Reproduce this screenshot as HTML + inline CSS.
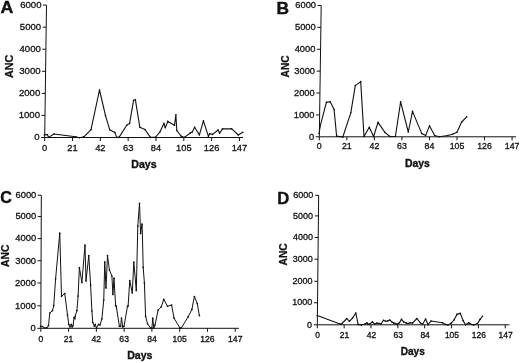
<!DOCTYPE html><html><head><meta charset="utf-8"><title>ANC</title><style>html,body{margin:0;padding:0;background:#fff}svg{display:block}text{font-family:"Liberation Sans",Arial,sans-serif;fill:#111}</style></head><body>
<svg width="520" height="363" viewBox="0 0 520 363">
<rect width="520" height="363" fill="#fff"/>
<g stroke="#111" stroke-width="1.0" fill="none">
<path d="M46.49 5.1L44.7 137.5H243"/>
<path d="M41.20 137.50H44.70M41.50 115.43H45.00M41.80 93.37H45.30M42.09 71.30H45.59M42.39 49.23H45.89M42.69 27.17H46.19M42.99 5.10H46.49M44.70 137.5V141.00M72.52 137.5V141.00M100.34 137.5V141.00M128.16 137.5V141.00M155.98 137.5V141.00M183.80 137.5V141.00M211.62 137.5V141.00M239.44 137.5V141.00"/>
<polyline points="44.40,134.90 47.30,134.50 48.70,137.40 53.90,134.00 75.60,136.80 79.50,137.80 83.90,136.80 91.00,129.70 99.50,90.00 105.50,115.60 109.70,129.70 114.80,132.40 116.70,137.40 119.00,137.40 126.70,125.30 129.60,123.40 133.60,100.20 135.40,99.80 139.80,127.20 145.00,129.50 150.40,137.40 155.30,137.40 159.90,132.00 163.90,123.40 165.30,127.80 167.80,121.40 174.50,125.30 175.90,114.70 176.80,130.50 181.30,136.30 184.50,137.40 190.30,133.00 192.30,132.00 194.60,127.20 199.40,134.90 203.40,120.80 208.40,136.20 209.70,133.70 212.60,134.40 218.20,130.00 219.60,133.30 222.50,128.90 231.50,128.70 238.30,135.00 242.80,132.30" stroke-width="1.1" stroke-linejoin="round"/>
<g fill="#111" stroke="none"><circle cx="44.40" cy="134.90" r="0.8"/><circle cx="47.30" cy="134.50" r="0.8"/><circle cx="48.70" cy="137.40" r="0.8"/><circle cx="53.90" cy="134.00" r="0.8"/><circle cx="75.60" cy="136.80" r="0.8"/><circle cx="79.50" cy="137.80" r="0.8"/><circle cx="83.90" cy="136.80" r="0.8"/><circle cx="91.00" cy="129.70" r="0.8"/><circle cx="99.50" cy="90.00" r="0.8"/><circle cx="105.50" cy="115.60" r="0.8"/><circle cx="109.70" cy="129.70" r="0.8"/><circle cx="114.80" cy="132.40" r="0.8"/><circle cx="116.70" cy="137.40" r="0.8"/><circle cx="119.00" cy="137.40" r="0.8"/><circle cx="126.70" cy="125.30" r="0.8"/><circle cx="129.60" cy="123.40" r="0.8"/><circle cx="133.60" cy="100.20" r="0.8"/><circle cx="135.40" cy="99.80" r="0.8"/><circle cx="139.80" cy="127.20" r="0.8"/><circle cx="145.00" cy="129.50" r="0.8"/><circle cx="150.40" cy="137.40" r="0.8"/><circle cx="155.30" cy="137.40" r="0.8"/><circle cx="159.90" cy="132.00" r="0.8"/><circle cx="163.90" cy="123.40" r="0.8"/><circle cx="165.30" cy="127.80" r="0.8"/><circle cx="167.80" cy="121.40" r="0.8"/><circle cx="174.50" cy="125.30" r="0.8"/><circle cx="175.90" cy="114.70" r="0.8"/><circle cx="176.80" cy="130.50" r="0.8"/><circle cx="181.30" cy="136.30" r="0.8"/><circle cx="184.50" cy="137.40" r="0.8"/><circle cx="190.30" cy="133.00" r="0.8"/><circle cx="192.30" cy="132.00" r="0.8"/><circle cx="194.60" cy="127.20" r="0.8"/><circle cx="199.40" cy="134.90" r="0.8"/><circle cx="203.40" cy="120.80" r="0.8"/><circle cx="208.40" cy="136.20" r="0.8"/><circle cx="209.70" cy="133.70" r="0.8"/><circle cx="212.60" cy="134.40" r="0.8"/><circle cx="218.20" cy="130.00" r="0.8"/><circle cx="219.60" cy="133.30" r="0.8"/><circle cx="222.50" cy="128.90" r="0.8"/><circle cx="231.50" cy="128.70" r="0.8"/><circle cx="238.30" cy="135.00" r="0.8"/><circle cx="242.80" cy="132.30" r="0.8"/></g>
</g>
<g font-size="9.6" text-anchor="end" stroke="#111" stroke-width="0.3">
<text x="39.70" y="140.46">0</text>
<text x="40.00" y="118.39">1000</text>
<text x="40.30" y="96.32">2000</text>
<text x="40.59" y="74.26">3000</text>
<text x="40.89" y="52.19">4000</text>
<text x="41.19" y="30.12">5000</text>
<text x="41.49" y="8.06">6000</text>
</g>
<g font-size="9.3" text-anchor="middle" stroke="#111" stroke-width="0.3">
<text transform="translate(44.70 150.50) scale(1 1.06)">0</text>
<text transform="translate(72.52 150.50) scale(1 1.06)">21</text>
<text transform="translate(100.34 150.50) scale(1 1.06)">42</text>
<text transform="translate(128.16 150.50) scale(1 1.06)">63</text>
<text transform="translate(155.98 150.50) scale(1 1.06)">84</text>
<text transform="translate(183.80 150.50) scale(1 1.06)">105</text>
<text transform="translate(211.62 150.50) scale(1 1.06)">126</text>
<text transform="translate(239.44 150.50) scale(1 1.06)">147</text>
</g>
<text transform="translate(0.6 12.9) scale(1.07 1)" font-size="16.6" font-weight="bold" stroke="#111" stroke-width="0.4">A</text>
<text transform="translate(13.1 66.4) rotate(-90)" font-size="10.8" font-weight="bold" text-anchor="middle" stroke="#111" stroke-width="0.25">ANC</text>
<text x="143.9" y="168.2" font-size="10.6" font-weight="bold" text-anchor="middle" stroke="#111" stroke-width="0.35">Days</text>
<g stroke="#111" stroke-width="1.0" fill="none">
<path d="M321.20 5.5L319.3 136.8H516"/>
<path d="M315.80 136.80H319.30M316.12 114.92H319.62M316.43 93.03H319.93M316.75 71.15H320.25M317.07 49.27H320.57M317.39 27.38H320.89M317.70 5.50H321.20M319.30 136.8V140.30M346.84 136.8V140.30M374.38 136.8V140.30M401.92 136.8V140.30M429.46 136.8V140.30M457.00 136.8V140.30M484.54 136.8V140.30M512.08 136.8V140.30"/>
<polyline points="319.20,133.60 320.00,126.80 326.40,102.40 330.20,101.80 334.10,109.50 336.60,136.10 342.80,137.00 350.80,112.80 355.30,85.60 360.70,81.60 364.00,136.50 369.30,127.20 373.60,136.50 378.00,122.40 385.10,132.60 390.00,136.50 395.40,136.50 400.60,101.80 408.30,132.00 412.50,111.40 421.80,133.60 425.60,135.50 429.50,125.90 434.70,135.50 439.10,136.70 447.80,135.50 452.60,134.20 456.90,132.20 461.70,122.00 466.70,116.80" stroke-width="1.1" stroke-linejoin="round"/>
<g fill="#111" stroke="none"><circle cx="319.20" cy="133.60" r="0.8"/><circle cx="320.00" cy="126.80" r="0.8"/><circle cx="326.40" cy="102.40" r="0.8"/><circle cx="330.20" cy="101.80" r="0.8"/><circle cx="334.10" cy="109.50" r="0.8"/><circle cx="336.60" cy="136.10" r="0.8"/><circle cx="342.80" cy="137.00" r="0.8"/><circle cx="350.80" cy="112.80" r="0.8"/><circle cx="355.30" cy="85.60" r="0.8"/><circle cx="360.70" cy="81.60" r="0.8"/><circle cx="364.00" cy="136.50" r="0.8"/><circle cx="369.30" cy="127.20" r="0.8"/><circle cx="373.60" cy="136.50" r="0.8"/><circle cx="378.00" cy="122.40" r="0.8"/><circle cx="385.10" cy="132.60" r="0.8"/><circle cx="390.00" cy="136.50" r="0.8"/><circle cx="395.40" cy="136.50" r="0.8"/><circle cx="400.60" cy="101.80" r="0.8"/><circle cx="408.30" cy="132.00" r="0.8"/><circle cx="412.50" cy="111.40" r="0.8"/><circle cx="421.80" cy="133.60" r="0.8"/><circle cx="425.60" cy="135.50" r="0.8"/><circle cx="429.50" cy="125.90" r="0.8"/><circle cx="434.70" cy="135.50" r="0.8"/><circle cx="439.10" cy="136.70" r="0.8"/><circle cx="447.80" cy="135.50" r="0.8"/><circle cx="452.60" cy="134.20" r="0.8"/><circle cx="456.90" cy="132.20" r="0.8"/><circle cx="461.70" cy="122.00" r="0.8"/><circle cx="466.70" cy="116.80" r="0.8"/></g>
</g>
<g font-size="9.3" text-anchor="end" stroke="#111" stroke-width="0.3">
<text x="314.10" y="139.65">0</text>
<text x="314.42" y="117.76">1000</text>
<text x="314.73" y="95.88">2000</text>
<text x="315.05" y="74.00">3000</text>
<text x="315.37" y="52.11">4000</text>
<text x="315.69" y="30.23">5000</text>
<text x="316.00" y="8.35">6000</text>
</g>
<g font-size="8.8" text-anchor="middle" stroke="#111" stroke-width="0.3">
<text transform="translate(319.30 149.40) scale(1 1.08)">0</text>
<text transform="translate(346.84 149.40) scale(1 1.08)">21</text>
<text transform="translate(374.38 149.40) scale(1 1.08)">42</text>
<text transform="translate(401.92 149.40) scale(1 1.08)">63</text>
<text transform="translate(429.46 149.40) scale(1 1.08)">84</text>
<text transform="translate(457.00 149.40) scale(1 1.08)">105</text>
<text transform="translate(484.54 149.40) scale(1 1.08)">126</text>
<text transform="translate(512.08 149.40) scale(1 1.08)">147</text>
</g>
<text transform="translate(276.6 14.0) scale(1.04 1)" font-size="16.7" font-weight="bold" stroke="#111" stroke-width="0.4">B</text>
<text transform="translate(288.6 66.4) rotate(-90)" font-size="10.2" font-weight="bold" text-anchor="middle" stroke="#111" stroke-width="0.25">ANC</text>
<text x="417.4" y="167.2" font-size="10.45" font-weight="bold" text-anchor="middle" stroke="#111" stroke-width="0.35">Days</text>
<g stroke="#111" stroke-width="1.0" fill="none">
<path d="M41.33 195.25L40.8 328.3H239"/>
<path d="M37.30 328.30H40.80M37.39 305.80H40.89M37.48 283.00H40.98M37.57 260.70H41.07M37.66 238.60H41.16M37.75 216.60H41.25M37.83 195.25H41.33M40.80 328.3V331.80M68.58 328.3V331.80M96.36 328.3V331.80M124.14 328.3V331.80M151.92 328.3V331.80M179.70 328.3V331.80M207.48 328.3V331.80M235.26 328.3V331.80"/>
<polyline points="40.60,326.25 42.50,326.50 44.40,328.00 46.90,327.75 48.50,325.60 49.75,313.10 52.50,310.60 53.75,305.60 55.60,278.75 59.75,233.10 61.50,296.25 64.75,293.50 67.50,315.00 68.75,324.40 70.00,326.90 71.25,324.40 72.10,326.90 73.10,325.60 74.00,317.50 75.00,318.75 75.25,316.25 76.90,310.60 78.10,296.00 79.40,267.50 81.90,282.50 85.00,245.00 86.00,281.00 88.75,255.60 90.60,285.00 91.90,311.00 92.75,322.50 94.40,326.25 95.25,324.40 96.50,327.75 98.50,324.40 100.00,325.00 101.90,318.75 103.75,300.00 104.75,261.90 106.00,288.00 107.50,255.60 109.40,270.00 111.90,276.00 112.90,294.40 114.00,278.00 115.60,305.60 116.25,306.25 119.40,326.25 120.60,326.25 121.50,318.00 122.75,326.90 124.00,326.25 127.50,306.25 128.10,306.00 129.75,280.60 132.25,293.00 133.80,262.00 136.30,290.60 137.80,226.10 139.50,203.30 140.60,233.40 142.10,224.00 143.20,267.30 144.40,283.00 145.60,316.25 147.50,323.75 150.60,328.10 151.90,328.10 152.75,318.10 153.75,328.10 155.00,325.00 158.10,310.00 161.25,306.90 163.75,299.40 167.50,306.25 171.60,305.00 174.00,318.10 180.00,328.10 181.25,328.10 188.10,316.90 191.90,309.40 194.40,296.50 197.25,303.50 199.40,315.60" stroke-width="1.0" stroke-linejoin="round"/>
<g fill="#111" stroke="none"><circle cx="40.60" cy="326.25" r="0.85"/><circle cx="42.50" cy="326.50" r="0.85"/><circle cx="44.40" cy="328.00" r="0.85"/><circle cx="46.90" cy="327.75" r="0.85"/><circle cx="48.50" cy="325.60" r="0.85"/><circle cx="49.75" cy="313.10" r="0.85"/><circle cx="52.50" cy="310.60" r="0.85"/><circle cx="53.75" cy="305.60" r="0.85"/><circle cx="55.60" cy="278.75" r="0.85"/><circle cx="59.75" cy="233.10" r="0.85"/><circle cx="61.50" cy="296.25" r="0.85"/><circle cx="64.75" cy="293.50" r="0.85"/><circle cx="67.50" cy="315.00" r="0.85"/><circle cx="68.75" cy="324.40" r="0.85"/><circle cx="70.00" cy="326.90" r="0.85"/><circle cx="71.25" cy="324.40" r="0.85"/><circle cx="72.10" cy="326.90" r="0.85"/><circle cx="73.10" cy="325.60" r="0.85"/><circle cx="74.00" cy="317.50" r="0.85"/><circle cx="75.00" cy="318.75" r="0.85"/><circle cx="75.25" cy="316.25" r="0.85"/><circle cx="76.90" cy="310.60" r="0.85"/><circle cx="78.10" cy="296.00" r="0.85"/><circle cx="79.40" cy="267.50" r="0.85"/><circle cx="81.90" cy="282.50" r="0.85"/><circle cx="85.00" cy="245.00" r="0.85"/><circle cx="86.00" cy="281.00" r="0.85"/><circle cx="88.75" cy="255.60" r="0.85"/><circle cx="90.60" cy="285.00" r="0.85"/><circle cx="91.90" cy="311.00" r="0.85"/><circle cx="92.75" cy="322.50" r="0.85"/><circle cx="94.40" cy="326.25" r="0.85"/><circle cx="95.25" cy="324.40" r="0.85"/><circle cx="96.50" cy="327.75" r="0.85"/><circle cx="98.50" cy="324.40" r="0.85"/><circle cx="100.00" cy="325.00" r="0.85"/><circle cx="101.90" cy="318.75" r="0.85"/><circle cx="103.75" cy="300.00" r="0.85"/><circle cx="104.75" cy="261.90" r="0.85"/><circle cx="106.00" cy="288.00" r="0.85"/><circle cx="107.50" cy="255.60" r="0.85"/><circle cx="109.40" cy="270.00" r="0.85"/><circle cx="111.90" cy="276.00" r="0.85"/><circle cx="112.90" cy="294.40" r="0.85"/><circle cx="114.00" cy="278.00" r="0.85"/><circle cx="115.60" cy="305.60" r="0.85"/><circle cx="116.25" cy="306.25" r="0.85"/><circle cx="119.40" cy="326.25" r="0.85"/><circle cx="120.60" cy="326.25" r="0.85"/><circle cx="121.50" cy="318.00" r="0.85"/><circle cx="122.75" cy="326.90" r="0.85"/><circle cx="124.00" cy="326.25" r="0.85"/><circle cx="127.50" cy="306.25" r="0.85"/><circle cx="128.10" cy="306.00" r="0.85"/><circle cx="129.75" cy="280.60" r="0.85"/><circle cx="132.25" cy="293.00" r="0.85"/><circle cx="133.80" cy="262.00" r="0.85"/><circle cx="136.30" cy="290.60" r="0.85"/><circle cx="137.80" cy="226.10" r="0.85"/><circle cx="139.50" cy="203.30" r="0.85"/><circle cx="140.60" cy="233.40" r="0.85"/><circle cx="142.10" cy="224.00" r="0.85"/><circle cx="143.20" cy="267.30" r="0.85"/><circle cx="144.40" cy="283.00" r="0.85"/><circle cx="145.60" cy="316.25" r="0.85"/><circle cx="147.50" cy="323.75" r="0.85"/><circle cx="150.60" cy="328.10" r="0.85"/><circle cx="151.90" cy="328.10" r="0.85"/><circle cx="152.75" cy="318.10" r="0.85"/><circle cx="153.75" cy="328.10" r="0.85"/><circle cx="155.00" cy="325.00" r="0.85"/><circle cx="158.10" cy="310.00" r="0.85"/><circle cx="161.25" cy="306.90" r="0.85"/><circle cx="163.75" cy="299.40" r="0.85"/><circle cx="167.50" cy="306.25" r="0.85"/><circle cx="171.60" cy="305.00" r="0.85"/><circle cx="174.00" cy="318.10" r="0.85"/><circle cx="180.00" cy="328.10" r="0.85"/><circle cx="181.25" cy="328.10" r="0.85"/><circle cx="188.10" cy="316.90" r="0.85"/><circle cx="191.90" cy="309.40" r="0.85"/><circle cx="194.40" cy="296.50" r="0.85"/><circle cx="197.25" cy="303.50" r="0.85"/><circle cx="199.40" cy="315.60" r="0.85"/></g>
</g>
<g font-size="9.4" text-anchor="end" stroke="#111" stroke-width="0.3">
<text x="35.80" y="331.18">0</text>
<text x="35.89" y="308.68">1000</text>
<text x="35.98" y="285.88">2000</text>
<text x="36.07" y="263.58">3000</text>
<text x="36.16" y="241.48">4000</text>
<text x="36.25" y="219.48">5000</text>
<text x="36.33" y="198.13">6000</text>
</g>
<g font-size="8.6" text-anchor="middle" stroke="#111" stroke-width="0.3">
<text transform="translate(40.80 341.70) scale(1 1.14)">0</text>
<text transform="translate(68.58 341.70) scale(1 1.14)">21</text>
<text transform="translate(96.36 341.70) scale(1 1.14)">42</text>
<text transform="translate(124.14 341.70) scale(1 1.14)">63</text>
<text transform="translate(151.92 341.70) scale(1 1.14)">84</text>
<text transform="translate(179.70 341.70) scale(1 1.14)">105</text>
<text transform="translate(207.48 341.70) scale(1 1.14)">126</text>
<text transform="translate(235.26 341.70) scale(1 1.14)">147</text>
</g>
<text transform="translate(0.3 203.2) scale(1 1)" font-size="16.1" font-weight="bold" stroke="#111" stroke-width="0.4">C</text>
<text transform="translate(9.4 255.8) rotate(-90)" font-size="10.4" font-weight="bold" text-anchor="middle" stroke="#111" stroke-width="0.25">ANC</text>
<text x="139.85" y="358.7" font-size="10.6" font-weight="bold" text-anchor="middle" stroke="#111" stroke-width="0.35">Days</text>
<g stroke="#111" stroke-width="1.0" fill="none">
<path d="M318.66 195.2L317.3 324.8H509.4"/>
<path d="M313.80 324.80H317.30M314.03 302.75H317.53M314.26 281.30H317.76M314.49 259.20H317.99M314.72 237.50H318.22M314.94 215.90H318.44M315.16 195.30H318.66M317.30 324.8V328.30M344.15 324.8V328.30M371.00 324.8V328.30M397.85 324.8V328.30M424.70 324.8V328.30M451.55 324.8V328.30M478.40 324.8V328.30M505.25 324.8V328.30"/>
<polyline points="317.25,315.60 340.00,324.00 341.50,324.00 346.90,318.50 349.40,321.25 352.50,318.10 355.80,313.00 358.10,324.40 361.25,325.00 365.00,324.00 366.90,322.75 368.10,324.40 370.00,323.75 372.50,321.90 374.40,324.00 376.90,323.10 379.40,323.50 381.00,324.00 383.50,320.25 385.60,321.25 387.50,321.00 389.75,320.00 391.90,321.90 393.75,323.10 395.60,323.50 397.25,324.40 399.40,322.75 401.50,319.40 403.75,321.90 406.25,323.10 408.40,323.50 410.00,322.75 412.50,323.10 416.90,318.50 420.60,323.10 422.50,324.40 425.60,319.00 428.10,324.75 431.00,321.00 442.50,322.75 445.00,324.40 448.10,325.00 451.25,323.10 454.00,320.00 456.90,314.40 460.30,313.40 463.10,320.60 465.60,324.75 468.75,322.75 470.00,323.75 473.75,325.00 477.50,323.50 480.00,319.40 482.50,316.25" stroke-width="1.1" stroke-linejoin="round"/>
<g fill="#111" stroke="none"><circle cx="317.25" cy="315.60" r="0.8"/><circle cx="340.00" cy="324.00" r="0.8"/><circle cx="341.50" cy="324.00" r="0.8"/><circle cx="346.90" cy="318.50" r="0.8"/><circle cx="349.40" cy="321.25" r="0.8"/><circle cx="352.50" cy="318.10" r="0.8"/><circle cx="355.80" cy="313.00" r="0.8"/><circle cx="358.10" cy="324.40" r="0.8"/><circle cx="361.25" cy="325.00" r="0.8"/><circle cx="365.00" cy="324.00" r="0.8"/><circle cx="366.90" cy="322.75" r="0.8"/><circle cx="368.10" cy="324.40" r="0.8"/><circle cx="370.00" cy="323.75" r="0.8"/><circle cx="372.50" cy="321.90" r="0.8"/><circle cx="374.40" cy="324.00" r="0.8"/><circle cx="376.90" cy="323.10" r="0.8"/><circle cx="379.40" cy="323.50" r="0.8"/><circle cx="381.00" cy="324.00" r="0.8"/><circle cx="383.50" cy="320.25" r="0.8"/><circle cx="385.60" cy="321.25" r="0.8"/><circle cx="387.50" cy="321.00" r="0.8"/><circle cx="389.75" cy="320.00" r="0.8"/><circle cx="391.90" cy="321.90" r="0.8"/><circle cx="393.75" cy="323.10" r="0.8"/><circle cx="395.60" cy="323.50" r="0.8"/><circle cx="397.25" cy="324.40" r="0.8"/><circle cx="399.40" cy="322.75" r="0.8"/><circle cx="401.50" cy="319.40" r="0.8"/><circle cx="403.75" cy="321.90" r="0.8"/><circle cx="406.25" cy="323.10" r="0.8"/><circle cx="408.40" cy="323.50" r="0.8"/><circle cx="410.00" cy="322.75" r="0.8"/><circle cx="412.50" cy="323.10" r="0.8"/><circle cx="416.90" cy="318.50" r="0.8"/><circle cx="420.60" cy="323.10" r="0.8"/><circle cx="422.50" cy="324.40" r="0.8"/><circle cx="425.60" cy="319.00" r="0.8"/><circle cx="428.10" cy="324.75" r="0.8"/><circle cx="431.00" cy="321.00" r="0.8"/><circle cx="442.50" cy="322.75" r="0.8"/><circle cx="445.00" cy="324.40" r="0.8"/><circle cx="448.10" cy="325.00" r="0.8"/><circle cx="451.25" cy="323.10" r="0.8"/><circle cx="454.00" cy="320.00" r="0.8"/><circle cx="456.90" cy="314.40" r="0.8"/><circle cx="460.30" cy="313.40" r="0.8"/><circle cx="463.10" cy="320.60" r="0.8"/><circle cx="465.60" cy="324.75" r="0.8"/><circle cx="468.75" cy="322.75" r="0.8"/><circle cx="470.00" cy="323.75" r="0.8"/><circle cx="473.75" cy="325.00" r="0.8"/><circle cx="477.50" cy="323.50" r="0.8"/><circle cx="480.00" cy="319.40" r="0.8"/><circle cx="482.50" cy="316.25" r="0.8"/></g>
</g>
<g font-size="9.0" text-anchor="end" stroke="#111" stroke-width="0.3">
<text x="312.00" y="327.54">0</text>
<text x="312.23" y="305.49">1000</text>
<text x="312.46" y="284.04">2000</text>
<text x="312.69" y="261.94">3000</text>
<text x="312.92" y="240.24">4000</text>
<text x="313.14" y="218.64">5000</text>
<text x="313.36" y="198.04">6000</text>
</g>
<g font-size="8.5" text-anchor="middle" stroke="#111" stroke-width="0.3">
<text transform="translate(317.70 337.60) scale(1 1.13)">0</text>
<text transform="translate(344.55 337.60) scale(1 1.13)">21</text>
<text transform="translate(371.40 337.60) scale(1 1.13)">42</text>
<text transform="translate(398.25 337.60) scale(1 1.13)">63</text>
<text transform="translate(425.10 337.60) scale(1 1.13)">84</text>
<text transform="translate(451.95 337.60) scale(1 1.13)">105</text>
<text transform="translate(478.80 337.60) scale(1 1.13)">126</text>
<text transform="translate(505.65 337.60) scale(1 1.13)">147</text>
</g>
<text transform="translate(277.2 203.8) scale(1.04 1)" font-size="16" font-weight="bold" stroke="#111" stroke-width="0.4">D</text>
<text transform="translate(287.3 254.4) rotate(-90)" font-size="10.3" font-weight="bold" text-anchor="middle" stroke="#111" stroke-width="0.25">ANC</text>
<text x="412.75" y="354.5" font-size="10.1" font-weight="bold" text-anchor="middle" stroke="#111" stroke-width="0.35">Days</text>
</svg></body></html>
